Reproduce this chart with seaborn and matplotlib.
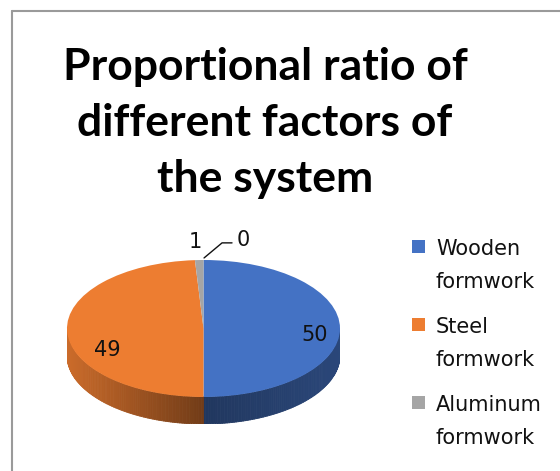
import numpy as np
import seaborn as sns
import matplotlib.pyplot as plt
from matplotlib.collections import PolyCollection
from matplotlib.patches import Rectangle
from matplotlib.lines import Line2D
from matplotlib.colors import to_rgb

# data
categories = ['Wooden formwork', 'Steel formwork', 'Aluminum formwork', '']
values = [50, 49, 1, 0]
colors = ['#4472C4', '#ED7D31', '#A5A5A5', '#FFC000']
title_lines = ['Proportional ratio of', 'different factors of', 'the system']

sns.set_theme(style='white')
plt.rcParams['font.family'] = ['DejaVu Sans']

W, H = 560, 471
fig = plt.figure(figsize=(W / 100, H / 100), dpi=100)
fig.patch.set_facecolor('white')

# chart border (only left and top edges fall inside the image)
fig.add_artist(Line2D([11.5 / W, 11.5 / W], [0, 1 - 10.5 / H], transform=fig.transFigure,
                      color='#9a9a9a', lw=1.5))
fig.add_artist(Line2D([11.5 / W, 1], [1 - 10.5 / H, 1 - 10.5 / H], transform=fig.transFigure,
                      color='#9a9a9a', lw=1.5))

# pie axes, squashed vertically to look like a tilted disc
depth = 0.394
ax = fig.add_axes([67 / W, (H - 424) / H, 273 / W, 164 / H])
wedges, _ = ax.pie(values, colors=colors, startangle=90, counterclock=False,
                   radius=1, wedgeprops=dict(linewidth=0))
ax.set_aspect('auto')
ax.set_xlim(-1, 1)
ax.set_ylim(-1 - depth, 1)
ax.axis('off')

# side wall of the disc, shaded left to right
polys, fcs = [], []
for w in wedges:
    if w.theta2 - w.theta1 <= 0:
        continue
    ts = np.linspace(w.theta1, w.theta2, max(2, int(w.theta2 - w.theta1) + 1))
    base = np.array(to_rgb(w.get_facecolor()))
    for t1, t2 in zip(ts[:-1], ts[1:]):
        tm = np.radians((t1 + t2) / 2)
        if np.sin(tm) > 0:
            continue
        a1, a2 = np.radians(t1), np.radians(t2)
        polys.append([(np.cos(a1), np.sin(a1)), (np.cos(a2), np.sin(a2)),
                      (np.cos(a2), np.sin(a2) - depth), (np.cos(a1), np.sin(a1) - depth)])
        c = np.cos(tm)
        f = 0.48 + 0.38 * max(-c, 0) + 0.14 * max(c, 0)
        fcs.append(np.clip(base * f, 0, 1))
side = PolyCollection(polys, facecolors=fcs, edgecolors=fcs, linewidths=0.6, zorder=0.5)
ax.add_collection(side)

# data labels
lab_pos = [(0.817, -0.095), (-0.707, -0.31), (-0.062, 1.26), (0.289, 1.29)]
for v, (x, y) in zip(values, lab_pos):
    ax.text(x, y, f'{v}', ha='center', va='center', fontsize=15, color='#111111', clip_on=False)
ax.plot([0.004, 0.136, 0.209], [1.03, 1.25, 1.25], color='#111111', lw=1, clip_on=False)

# title
for i, line in enumerate(title_lines):
    fig.text(265 / W, 1 - (80 + 56 * i) / H, line, ha='center', va='baseline',
             fontsize=32, fontweight='bold', family=['Lato', 'DejaVu Sans'], color='black')

# legend
for i, (name, col) in enumerate(zip(categories, colors)):
    if not name:
        continue
    top = 240 + 78 * i
    fig.add_artist(Rectangle((412 / W, 1 - (top + 13) / H), 13 / W, 13 / H,
                             transform=fig.transFigure, facecolor=col, edgecolor='none'))
    for j, part in enumerate(name.split(' ')):
        fig.text(436 / W, 1 - (top + 15 + 33 * j) / H, part, ha='left', va='baseline',
                 fontsize=15, color='#111111')

fig.savefig('out.png', dpi=100)
